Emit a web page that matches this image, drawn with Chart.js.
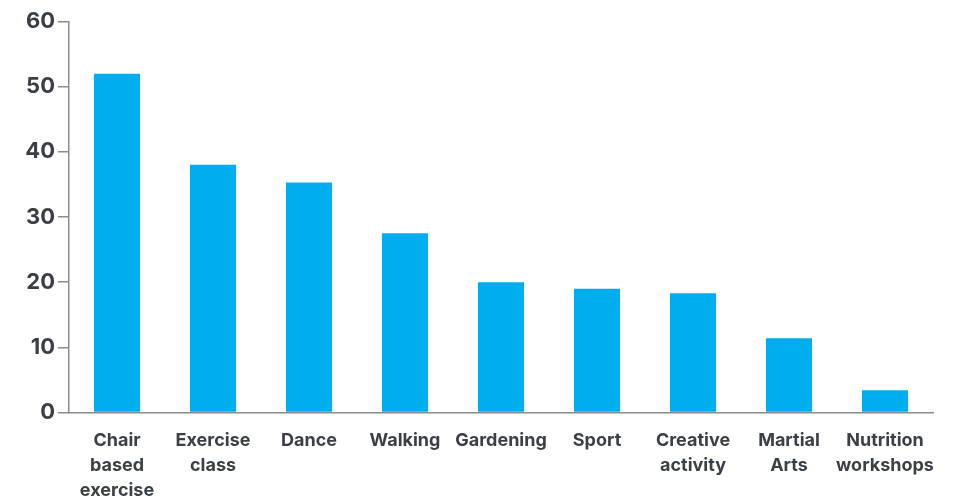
<!DOCTYPE html>
<html>
<head>
<meta charset="utf-8">
<script src="https://cdn.jsdelivr.net/npm/chart.js@4.4.0/dist/chart.umd.min.js"></script>
<style>
    html, body { margin: 0; padding: 0; background: #ffffff; }
    #wrap { width: 962px; height: 499px; }
</style>
</head>
<body>
<div id="wrap"><canvas id="activityChart" width="962" height="499"></canvas></div>
<script>
// Dados do gráfico
const activities = [
    ['Chair', 'based', 'exercise'],
    ['Exercise', 'class'],
    'Dance',
    'Walking',
    'Gardening',
    'Sport',
    ['Creative', 'activity'],
    ['Martial', 'Arts'],
    ['Nutrition', 'workshops']
];
const percentages = [52, 38, 35.3, 27.5, 20, 19, 18.3, 11.4, 3.4];
const yTicks = [0, 10, 20, 30, 40, 50, 60];

const barColor = '#00aeef';
const textColor = '#3b4046';
const axisColor = '#8c8c8c';

const ctx = document.getElementById('activityChart').getContext('2d');

new Chart(ctx, {
    type: 'bar',
    data: {
        labels: activities,
        datasets: [{
            data: percentages,
            backgroundColor: barColor,
            borderWidth: 0,
            barPercentage: 0.48,
            categoryPercentage: 1
        }]
    },
    options: {
        responsive: false,
        animation: false,
        layout: {
            padding: { top: 21.5, right: 29, left: 0, bottom: 0 }
        },
        plugins: {
            legend: { display: false },
            tooltip: { enabled: false }
        },
        scales: {
            x: {
                grid: { display: false, drawTicks: false },
                border: { display: true, color: axisColor, width: 1.5 },
                ticks: {
                    color: textColor,
                    font: { family: 'Inter', size: 18, weight: 'bold', lineHeight: 1.39 },
                    padding: 16,
                    maxRotation: 0,
                    autoSkip: false
                },
                afterFit: function(scale) { scale.height = 86.5; }
            },
            y: {
                min: 0,
                max: 60,
                afterBuildTicks: function(scale) {
                    scale.ticks = yTicks.map(v => ({ value: v }));
                },
                grid: {
                    drawOnChartArea: false,
                    drawTicks: true,
                    tickLength: 11,
                    tickColor: axisColor,
                    lineWidth: 1.5
                },
                border: { display: true, color: axisColor, width: 1.5 },
                ticks: {
                    color: textColor,
                    font: { family: 'Inter', size: 22, weight: 'bold' },
                    padding: 3
                },
                afterFit: function(scale) { scale.width = 69; }
            }
        }
    }
});
</script>
</body>
</html>
